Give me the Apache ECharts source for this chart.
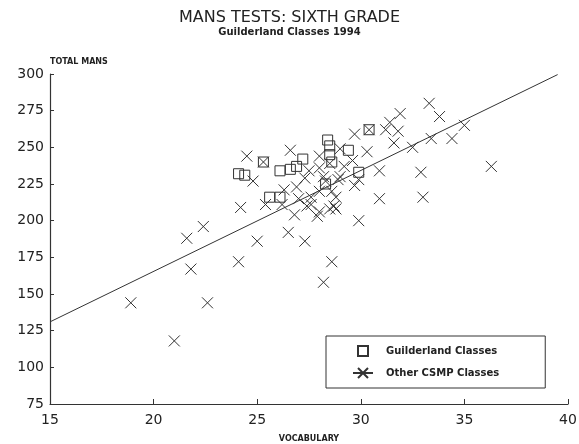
<!DOCTYPE html>
<html>
<head>
<meta charset="utf-8">
<script src="https://cdn.jsdelivr.net/npm/echarts@6/dist/echarts.min.js"></script>
<style>
    html, body { margin: 0; padding: 0; background: #fff; }
    #chart { width: 579px; height: 444px; }
</style>
</head>
<body>
<div id="chart"></div>
<script>
    // Guilderland classes (squares)
    var guilderland = [
        [24.1, 232], [24.4, 231], [25.3, 240], [26.1, 234], [26.6, 235],
        [26.9, 237], [27.2, 242], [28.4, 255], [28.5, 251], [28.5, 245],
        [28.6, 240], [29.4, 248], [29.9, 233], [28.3, 225], [30.4, 262],
        [25.6, 216], [26.1, 216]
    ];
    // other CSMP classes (crosses)
    var otherCsmp = [
        [18.9, 144], [21.0, 118], [21.6, 188], [21.8, 167], [22.4, 196],
        [22.6, 144], [24.1, 172], [24.2, 209], [24.5, 244], [24.8, 227],
        [25.0, 186], [25.3, 240], [25.4, 211], [26.2, 211], [26.3, 221],
        [26.5, 192], [26.6, 248], [26.8, 204], [26.9, 223], [27.0, 215],
        [27.3, 186], [27.3, 229], [27.4, 210], [27.5, 234], [27.6, 216],
        [27.6, 211], [27.9, 203], [28.0, 206], [28.0, 236], [28.0, 244],
        [28.0, 220], [28.2, 158], [28.2, 230], [28.3, 227], [28.5, 208],
        [28.5, 239], [28.6, 172], [28.6, 220], [28.7, 210], [28.8, 216],
        [28.8, 208], [28.9, 228], [29.0, 249], [29.0, 230], [29.2, 237],
        [29.6, 241], [29.7, 224], [29.7, 259], [29.9, 228], [29.9, 200],
        [30.3, 247], [30.4, 262], [30.9, 234], [30.9, 215], [31.2, 262],
        [31.4, 267], [31.6, 253], [31.8, 261], [31.9, 273], [32.5, 250],
        [32.9, 233], [33.0, 216], [33.3, 280], [33.4, 256], [33.8, 271],
        [34.4, 256], [35.0, 265], [36.3, 237]
    ];
    // fitted line end points
    var fitLine = [[15, 131], [39.5, 299.6]];

    var ink = '#333';
    var crossPath = 'path://M0,0L10,10M0,10L10,0';

    var chart = echarts.init(document.getElementById('chart'));
    chart.setOption({
        backgroundColor: '#fff',
        animation: false,
        title: {
            text: 'MANS TESTS: SIXTH GRADE',
            subtext: 'Guilderland Classes 1994',
            left: 'center',
            top: 5,
            itemGap: 1,
            textStyle: { fontFamily: 'DejaVu Sans', fontSize: 16, fontWeight: 'normal', color: '#222' },
            subtextStyle: { fontFamily: 'DejaVu Sans', fontSize: 10, fontWeight: 'bold', color: '#222' }
        },
        grid: { left: 50, right: 11, top: 74, bottom: 40, outerBoundsMode: 'none' },
        legend: {
            orient: 'vertical',
            left: 326,
            top: 336,
            width: 222,
            padding: [9, 46, 9, 26],
            itemGap: 10,
            itemWidth: 20,
            itemHeight: 10,
            borderColor: ink,
            borderWidth: 1,
            textStyle: { fontFamily: 'DejaVu Sans', fontSize: 10, fontWeight: 'bold', color: '#222', padding: [0, 0, 0, 8] },
            data: [
                { name: 'Guilderland Classes', icon: 'path://M5,0L15,0L15,10L5,10Z' },
                { name: 'Other CSMP Classes', icon: 'path://M0,5L20,5M5,0L15,10M5,10L15,0' }
            ]
        },
        xAxis: {
            type: 'value',
            min: 15, max: 40, interval: 5,
            name: 'VOCABULARY',
            nameLocation: 'middle',
            nameGap: 31,
            nameTextStyle: { fontFamily: 'DejaVu Sans', fontSize: 8, fontWeight: 'bold', color: '#222' },
            axisLine: { lineStyle: { color: ink, width: 1.2 } },
            axisTick: { inside: true, length: 5, lineStyle: { color: ink } },
            axisLabel: { fontFamily: 'DejaVu Sans', fontSize: 14, color: '#222', margin: 9 },
            splitLine: { show: false }
        },
        yAxis: {
            type: 'value',
            min: 75, max: 300, interval: 25,
            name: 'TOTAL MANS',
            nameLocation: 'end',
            nameGap: 8,
            nameTextStyle: { fontFamily: 'DejaVu Sans', fontSize: 8, fontWeight: 'bold', color: '#222', align: 'left' },
            axisLine: { show: true, lineStyle: { color: ink, width: 1.2 } },
            axisTick: { show: true, inside: true, length: 4, lineStyle: { color: ink } },
            axisLabel: { fontFamily: 'DejaVu Sans', fontSize: 14, color: '#222', margin: 6 },
            splitLine: { show: false }
        },
        series: [
            {
                name: 'fit',
                type: 'line',
                data: fitLine,
                symbol: 'none',
                lineStyle: { color: ink, width: 1 },
                silent: true
            },
            {
                name: 'Guilderland Classes',
                type: 'scatter',
                data: guilderland,
                symbol: 'rect',
                symbolSize: 10,
                itemStyle: { color: 'rgba(0,0,0,0)', borderColor: ink, borderWidth: 1, opacity: 1 }
            },
            {
                name: 'Other CSMP Classes',
                type: 'scatter',
                data: otherCsmp,
                symbol: crossPath,
                symbolSize: 11,
                itemStyle: { color: 'rgba(0,0,0,0)', borderColor: ink, borderWidth: 1, opacity: 1 }
            }
        ]
    });
</script>
</body>
</html>
